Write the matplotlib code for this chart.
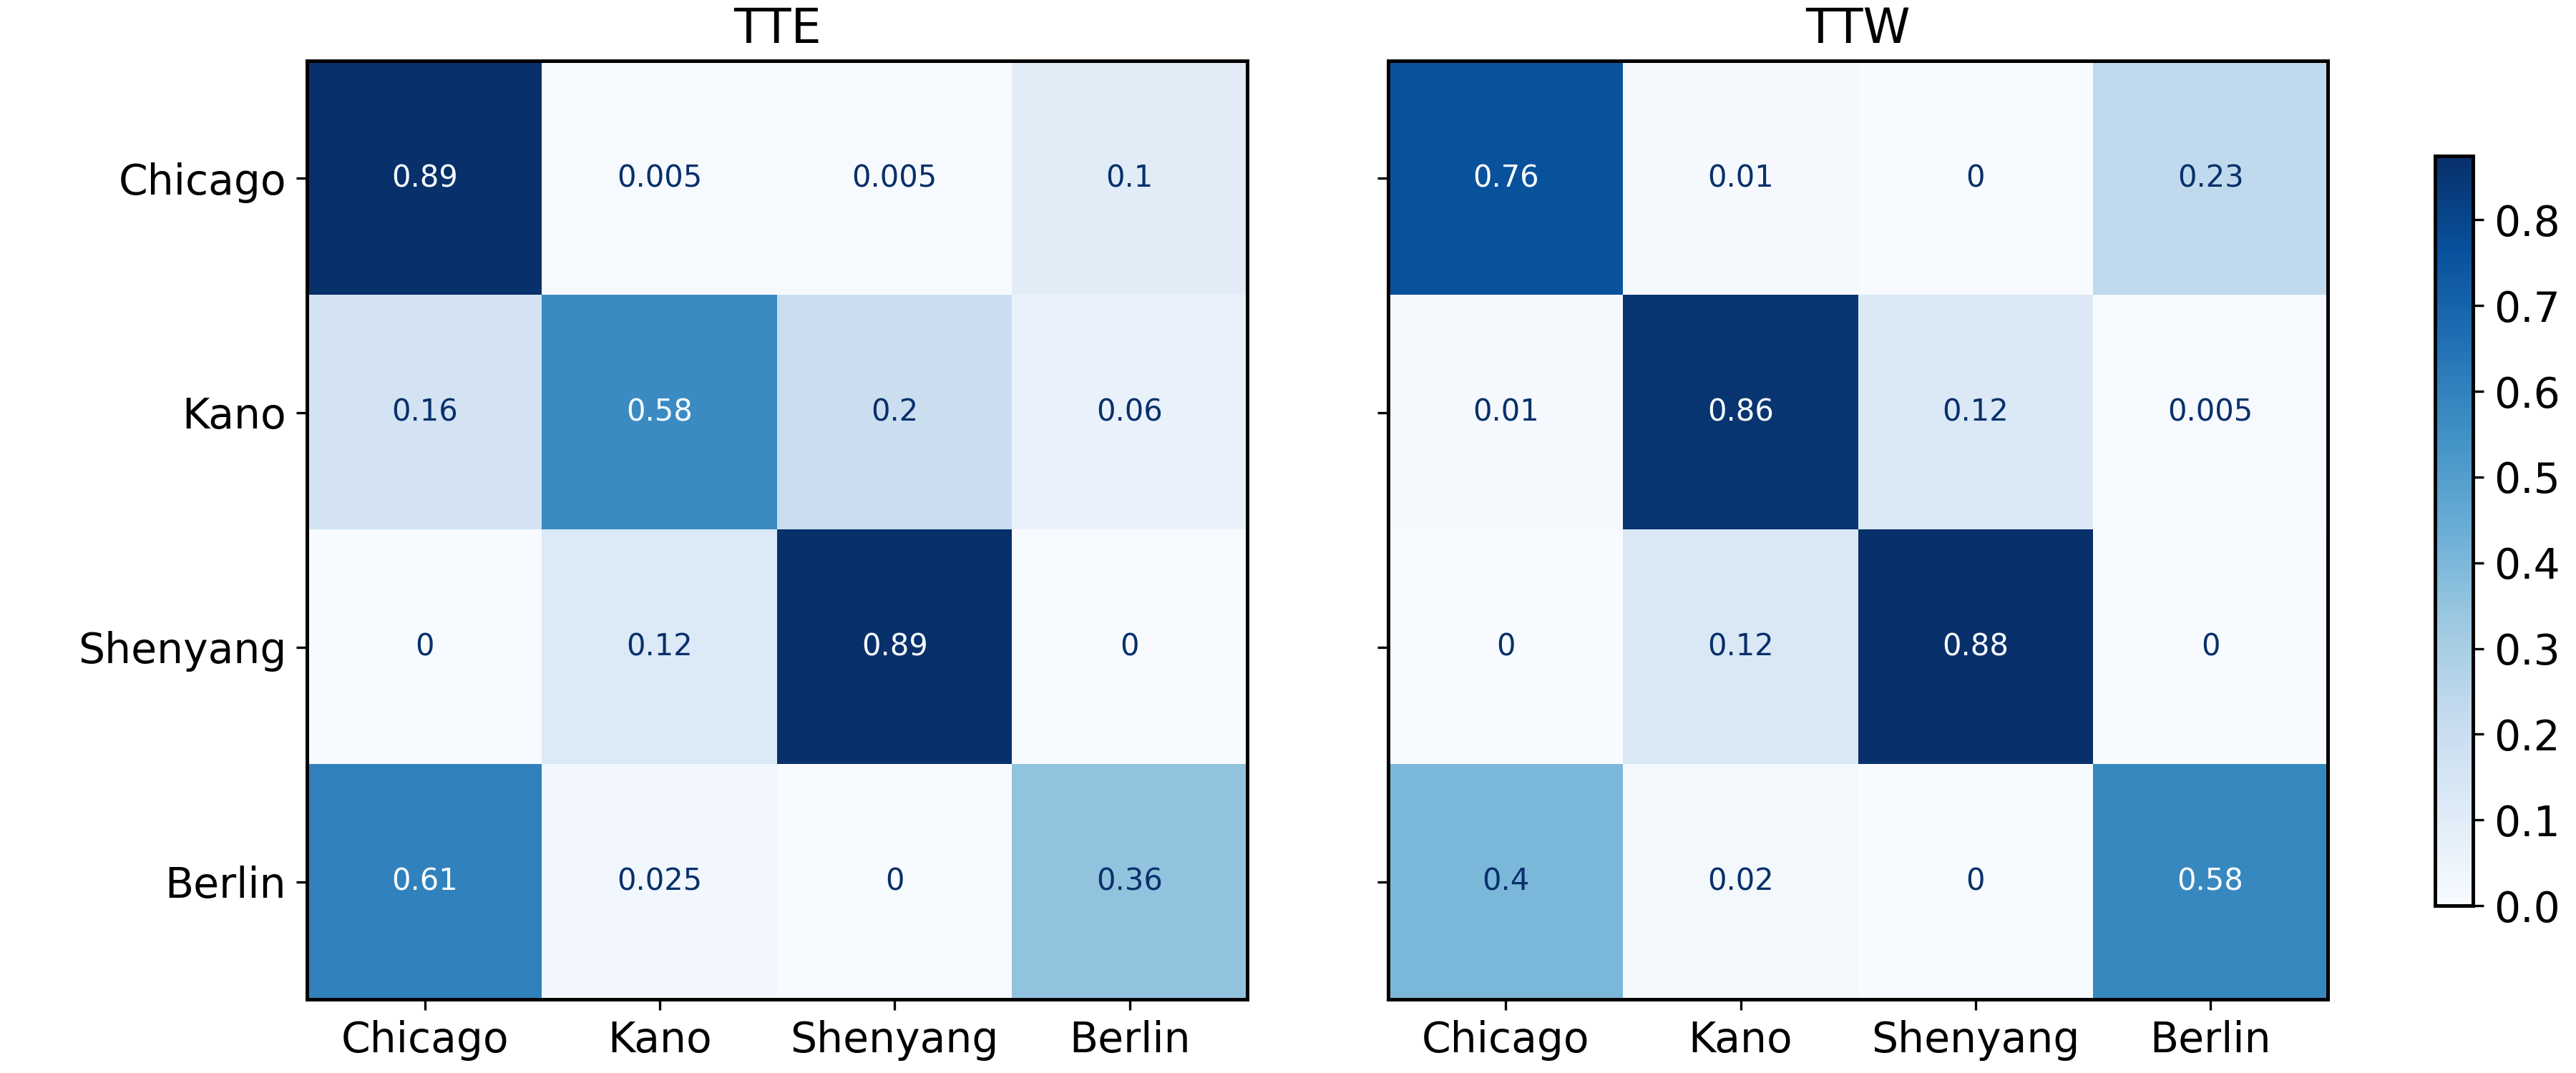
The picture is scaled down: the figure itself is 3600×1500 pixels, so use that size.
import matplotlib.pyplot as plt
import numpy as np

# 数据
cities = ['Chicago', 'Kano', 'Shenyang', 'Berlin']
titles = ['TTE', 'TTW']

tte = np.array([
    [0.89, 0.005, 0.005, 0.1],
    [0.16, 0.58, 0.2, 0.06],
    [0.0, 0.12, 0.89, 0.0],
    [0.61, 0.025, 0.0, 0.36],
])
ttw = np.array([
    [0.76, 0.01, 0.0, 0.23],
    [0.01, 0.86, 0.12, 0.005],
    [0.0, 0.125, 0.875, 0.0],
    [0.4, 0.02, 0.0, 0.58],
])
cbar_ticks = [0.0, 0.1, 0.2, 0.3, 0.4, 0.5, 0.6, 0.7, 0.8]

fig = plt.figure(figsize=(12, 5), dpi=300)
ax1 = fig.add_axes([0.1193, 0.0688, 0.3648, 0.8745])
ax2 = fig.add_axes([0.5389, 0.0688, 0.3648, 0.8745])
cax = fig.add_axes([0.9452, 0.156, 0.0147, 0.699])

cmap = plt.get_cmap('Blues')
im = None
for ax, data, title in zip([ax1, ax2], [tte, ttw], titles):
    im = ax.imshow(data, cmap=cmap, interpolation='nearest', aspect='auto')
    vmin, vmax = data.min(), data.max()
    thresh = (vmax + vmin) / 2.0
    for i in range(data.shape[0]):
        for j in range(data.shape[1]):
            v = data[i, j]
            color = cmap(0.0) if v > thresh else cmap(1.0)
            ax.text(j, i, format(v, '.2g'), ha='center', va='center',
                    color=color, fontsize=10)
    ax.set_xticks(range(len(cities)))
    ax.set_xticklabels(cities, fontsize=14)
    ax.set_yticks(range(len(cities)))
    ax.set_title(title, fontsize=16)
    for spine in ax.spines.values():
        spine.set_linewidth(1.2)

ax1.set_yticklabels(cities, fontsize=14)
ax2.set_yticklabels([])

cb = fig.colorbar(im, cax=cax, ticks=cbar_ticks)
cb.ax.tick_params(labelsize=14)
cb.outline.set_linewidth(1.2)

plt.savefig('out.png')
